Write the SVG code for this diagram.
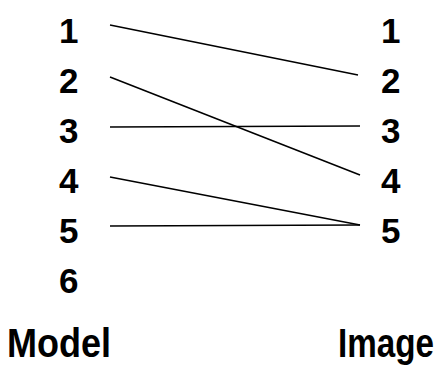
<svg xmlns="http://www.w3.org/2000/svg" width="441" height="376" viewBox="0 0 441 376">
<style>
.d{font-family:"Liberation Sans",Arial,sans-serif;font-weight:bold;font-size:35px;fill:#000}
.t{font-family:"Liberation Sans",Arial,sans-serif;font-weight:bold;font-size:34px;fill:#000}
.c line{stroke:#000;stroke-width:1.5;fill:none}
</style>
<rect width="441" height="376" fill="#fff"/>
<g id="model">
<text class="d" x="59" y="43">1</text>
<text class="d" x="59" y="93">2</text>
<text class="d" x="59" y="143">3</text>
<text class="d" x="59" y="193">4</text>
<text class="d" x="59" y="243">5</text>
<text class="d" x="59" y="293">6</text>
<text class="t" transform="translate(7,357) scale(1,1.18)" textLength="104" lengthAdjust="spacingAndGlyphs">Model</text>
</g>
<g id="image">
<text class="d" x="381" y="43">1</text>
<text class="d" x="381" y="93">2</text>
<text class="d" x="381" y="143">3</text>
<text class="d" x="381" y="193">4</text>
<text class="d" x="381" y="243">5</text>
<text class="t" transform="translate(338,357) scale(1,1.18)" textLength="96" lengthAdjust="spacingAndGlyphs">Image</text>
</g>
<g id="connectors" class="c">
<line x1="110" y1="25" x2="358" y2="75"/>
<line x1="110" y1="77" x2="360" y2="175"/>
<line x1="110" y1="127" x2="360" y2="126"/>
<line x1="110" y1="177" x2="360" y2="225"/>
<line x1="110" y1="226" x2="360" y2="225"/>
</g>
</svg>
